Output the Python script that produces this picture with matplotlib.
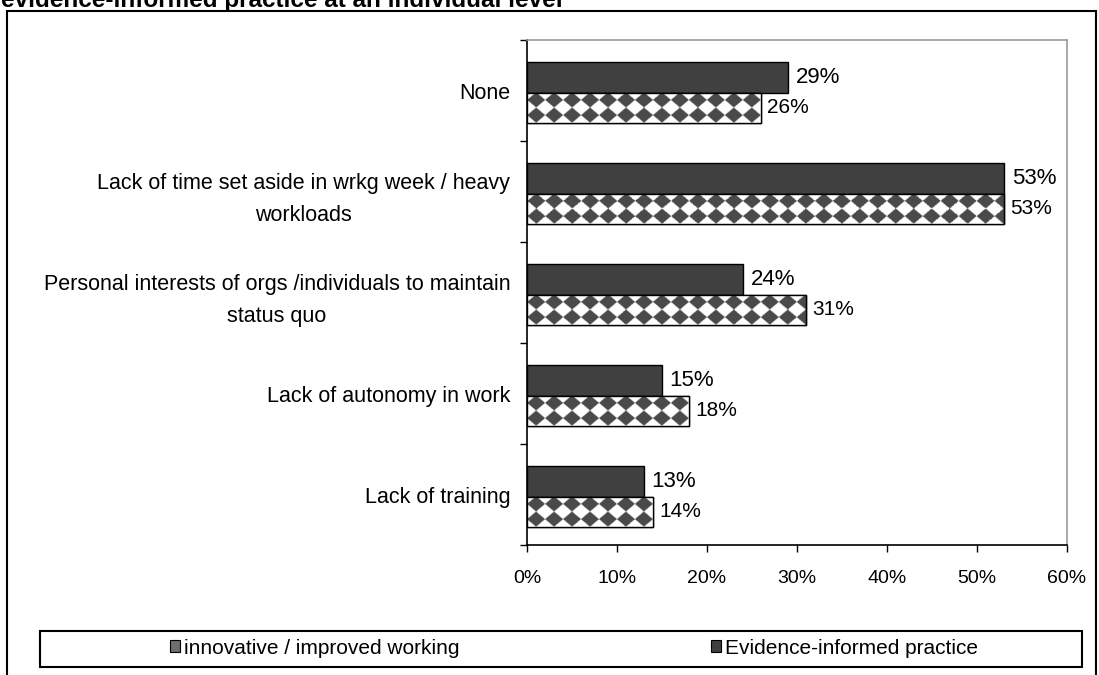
import numpy as np
import matplotlib
matplotlib.use("Agg")
import matplotlib.pyplot as plt
from matplotlib.patches import Rectangle, Patch

plt.rcParams['font.family'] = ['Liberation Sans', 'DejaVu Sans']

categories = [
    "None",
    "Lack of time set aside in wrkg week / heavy\nworkloads",
    "Personal interests of orgs /individuals to maintain\nstatus quo",
    "Lack of autonomy in work",
    "Lack of training",
]
evidence_informed = [29, 53, 24, 15, 13]
innovative = [26, 53, 31, 18, 14]
series_names = ["innovative / improved working", "Evidence-informed practice"]
x_ticks = [0, 10, 20, 30, 40, 50, 60]
title = "evidence-informed practice at an individual level"

W, H = 1099, 675
fig = plt.figure(figsize=(W / 100, H / 100), dpi=100)
ax = fig.add_axes([527 / W, 130 / H, 540 / W, 505 / H])

dark = "#404040"
diamond = "#4a4a4a"
bh = 0.3
n = len(categories)
ypos = np.arange(n)

bars_ev = ax.barh(ypos - bh / 2 + 0.02, evidence_informed, height=bh, color=dark,
                  edgecolor="black", linewidth=1.0, zorder=3)
bars_in = ax.barh(ypos + bh / 2 + 0.02, innovative, height=bh, color="white",
                  edgecolor="black", linewidth=1.0, zorder=3)

# diamond texture for the second series, clipped to each bar
px_x, px_y = 2.0, 0.15  # pattern period in data units
for b in bars_in:
    x0, y0 = b.get_x(), b.get_y()
    w, h = b.get_width(), b.get_height()
    nx, ny = 600, 60
    xs = np.linspace(x0, x0 + w, nx)
    ys = np.linspace(y0, y0 + h, ny)
    X, Y = np.meshgrid(xs, ys)
    fx = ((X - x0) / px_x) % 1.0 - 0.5
    fy = ((Y - y0) / px_y) % 1.0 - 0.5
    mask = (np.abs(fx) + np.abs(fy)) < 0.5
    img = np.ones((ny, nx, 3))
    img[mask] = np.array(matplotlib.colors.to_rgb(diamond))
    im = ax.imshow(img, extent=(x0, x0 + w, y0 + h, y0), aspect="auto",
                   interpolation="bilinear", zorder=3.5)
    im.set_clip_path(b)
    ax.add_patch(Rectangle((x0, y0), w, h, fill=False, edgecolor="black",
                           linewidth=1.0, zorder=4))

for b, v in zip(bars_ev, evidence_informed):
    ax.text(v + 0.85, b.get_y() + b.get_height() / 2, f"{v}%", va="center",
            ha="left", fontsize=16, zorder=5)
for b, v in zip(bars_in, innovative):
    ax.text(v + 0.7, b.get_y() + b.get_height() / 2, f"{v}%", va="center",
            ha="left", fontsize=15, zorder=5)

ax.set_xlim(0, 60)
ax.set_ylim(n - 0.5, -0.5)
ax.set_xticks(x_ticks)
ax.set_xticklabels([f"{t}%" for t in x_ticks], fontsize=14)
ax.set_yticks(np.arange(-0.5, n, 1.0))
ax.set_yticklabels([])
ax.set_yticks(ypos, minor=True)
ax.set_yticklabels(categories, minor=True, fontsize=15.5, ha="right",
                   multialignment="center", linespacing=1.7)
ax.tick_params(axis="y", which="minor", length=0, pad=12)
ax.tick_params(axis="y", which="major", direction="out", length=5, width=1)
ax.tick_params(axis="x", direction="out", length=5, width=1, pad=13)
for s in ("left", "bottom"):
    ax.spines[s].set_color("black")
    ax.spines[s].set_linewidth(1.2)
for s in ("top", "right"):
    ax.spines[s].set_color("#999999")
    ax.spines[s].set_linewidth(1.2)

# outer border
fig.patches.append(Rectangle((7 / W, -10 / H), 1089 / W, (H - 11 + 10) / H,
                             transform=fig.transFigure, fill=False,
                             edgecolor="black", linewidth=1.5))
# legend box
fig.patches.append(Rectangle((40 / W, 8 / H), 1042 / W, 36 / H,
                             transform=fig.transFigure, fill=False,
                             edgecolor="black", linewidth=1.5))

handles = [
    Patch(facecolor="#6e6e6e", edgecolor="black", linewidth=0.8),
    Patch(facecolor=dark, edgecolor="black", linewidth=0.8),
]
fig.legend(handles, series_names, loc="center left", ncol=2,
           bbox_to_anchor=(162 / W, 27 / H), frameon=False, fontsize=15,
           handlelength=0.45, handleheight=0.5, handletextpad=0.2,
           columnspacing=12.1, borderpad=0.4, borderaxespad=0)

fig.text(1 / W, (H - 7.5) / H, title, fontsize=17.5, fontweight="bold",
         ha="left", va="baseline")

fig.savefig("out.png", dpi=100)
